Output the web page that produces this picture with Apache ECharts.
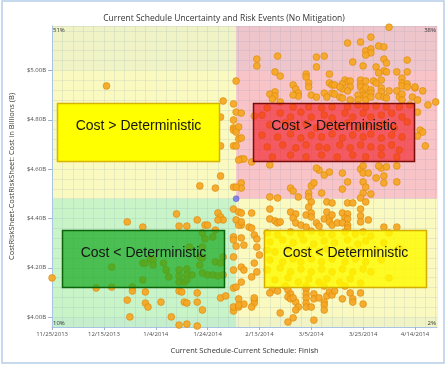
<!DOCTYPE html>
<html><head><meta charset="utf-8">
<script src="https://cdn.jsdelivr.net/npm/echarts@6/dist/echarts.min.js"></script>
<style>html,body{margin:0;padding:0;background:#fff}#c{width:448px;height:365px}</style>
</head><body><div id="c"></div><script>
const chartTitle = 'Current Schedule Uncertainty and Risk Events (No Mitigation)';
const xAxisTitle = 'Current Schedule-Current Schedule: Finish';
const yAxisTitle = 'CostRiskSheet-CostRiskSheet: Cost in Billions (B)';
const startDateUTC = Date.UTC(2013, 10, 25);           // day 0 = 11/25/2013
const xTickDays = [0, 20, 40, 60, 80, 100, 120, 140];
const yTickCosts = [4.0, 4.2, 4.4, 4.6, 4.8, 5.0];
const xRange = [0, 148.5];
const yRange = [3.96, 5.18];
const deterministicPoint = [71, 4.48];
const quadrantShares = ['51%', '38%', '10%', '2%'];     // TL, TR, BL, BR
const quadrantCaptions = ['Cost > Deterministic', 'Cost > Deterministic', 'Cost < Deterministic', 'Cost < Deterministic'];

// [finish day offset, cost in $B]
const upperLeftRuns = [[21,4.937],[66,4.876],[70,4.864],[65,4.811],[70,4.799],[70,4.767],[70,4.758],[65,4.694],[70,4.694],[65,4.572],[57,4.532],[63,4.523],[70,4.527]];
const upperRightRuns = [
[130,5.175],[123,5.135],[114,5.111],[119,5.115],[126,5.099],[121,5.079],[123,5.087],[123,5.071],[121,5.062],[87,5.058],[102,5.054],[105,5.058],[128,5.046],[129,5.030],[79,5.046],[79,5.018],[116,5.034],[137,5.042],[120,5.018],[102,5.014],[125,5.014],[128,4.998],[129,4.994],[133,4.994],[137,4.994],[126,4.990],[86,4.994],[88,4.977],[71,4.957],[98,4.985],[98,4.973],[107,4.985],[135,4.969],[135,4.949],[113,4.961],[114,4.953],[115,4.957],[119,4.961],[119,4.945],[121,4.957],[124,4.957],[127,4.961],[125,4.949],[107,4.949],[108,4.941],[109,4.941],[99,4.949],[99,4.933],[93,4.941],[94,4.925],[95,4.908],[112,4.945],[112,4.925],[111,4.933],[115,4.933],[114,4.917],[119,4.933],[120,4.917],[120,4.900],[121,4.929],[123,4.921],[123,4.908],[127,4.929],[127,4.913],[130,4.917],[133,4.917],[137,4.945],[140,4.929],[143,4.917],[86,4.913],[84,4.904],[86,4.896],[85,4.884],[95,4.896],[93,4.900],[100,4.900],[102,4.892],[105,4.908],[106,4.892],[108,4.908],[109,4.904],[111,4.892],[112,4.888],[115,4.880],[118,4.900],[118,4.880],[121,4.896],[121,4.880],[123,4.892],[126,4.896],[128,4.892],[129,4.888],[134,4.892],[135,4.904],[135,4.880],[139,4.892],[141,4.880],[145,4.860],[148,4.872],[88,4.872],[128,5.095],[135,4.937],[137,4.933],[140,4.933],
[71,4.831],[73,4.827],[71,4.763],[72,4.722],[71,4.694],[73,4.641],[74,4.641],[78,4.815],[77,4.629],[72,4.771],[73,4.726],[72,4.637],[71,4.750],
[142,4.758],[143,4.750],[141,4.734],[144,4.694],[141,4.831],
[83,4.848],[93,4.852],[99,4.852],[104,4.848],[108,4.852],[114,4.852],[118,4.860],[121,4.852],[125,4.856],[129,4.852],[134,4.852],[138,4.860],
[81,4.819],[88,4.827],[92,4.811],[96,4.831],[100,4.811],[105,4.819],[108,4.807],[113,4.827],[116,4.811],[120,4.827],[123,4.811],[127,4.819],[131,4.827],[135,4.811],
[84,4.779],[90,4.787],[94,4.771],[98,4.783],[102,4.767],[106,4.779],[110,4.771],[114,4.787],[118,4.767],[121,4.779],[125,4.771],[128,4.783],[132,4.767],[137,4.791],
[81,4.738],[87,4.730],[92,4.742],[96,4.726],[100,4.738],[104,4.730],[108,4.742],[112,4.726],[116,4.738],[120,4.730],[123,4.742],[127,4.726],[131,4.738],[135,4.730],
[83,4.690],[89,4.698],[94,4.686],[98,4.698],[103,4.690],[106,4.686],[111,4.698],[115,4.686],[119,4.698],[123,4.690],[127,4.686],[131,4.698],[134,4.677],
[85,4.649],[92,4.657],[98,4.649],[104,4.657],[110,4.649],[116,4.657],[121,4.649],[127,4.657],[133,4.649],
[84,4.617],[103,4.596],[105,4.576],[107,4.588],[112,4.584],[119,4.600],[120,4.584],[122,4.584],[127,4.604],[128,4.572],[129,4.609],[133,4.613],[125,4.564],[114,4.548],[120,4.548],[128,4.544],[133,4.548],[73,4.544],[73,4.523],[71,4.527],[92,4.523],[93,4.511],[100,4.532],[101,4.544],[99,4.503],[104,4.503],[112,4.519],[120,4.503],[123,4.499],[121,4.527],[102,4.604],[126,4.613],[120,4.613],[84,4.487],[87,4.483],[95,4.487],[99,4.487],[119,4.483]
];
const lowerRightRuns = [
[100,4.467],[99,4.446],[106,4.467],[108,4.463],[114,4.463],[116,4.463],[121,4.467],[72,4.426],[73,4.422],[77,4.422],[84,4.438],[92,4.426],[94,4.418],[93,4.402],[98,4.414],[100,4.422],[100,4.406],[106,4.426],[105,4.398],[107,4.402],[108,4.414],[112,4.422],[114,4.418],[113,4.402],[114,4.398],[119,4.438],[119,4.410],[119,4.386],[122,4.394],[71,4.394],[73,4.373],[76,4.365],[77,4.361],[84,4.398],[86,4.390],[87,4.382],[88,4.386],[94,4.382],[96,4.373],[98,4.365],[102,4.382],[103,4.369],[107,4.386],[108,4.373],[110,4.382],[112,4.382],[114,4.373],[114,4.361],[128,4.365],[133,4.365],[73,4.321],[74,4.292],[78,4.333],[79,4.317],[79,4.284],[80,4.252],[73,4.203],[74,4.191],[78,4.219],[77,4.163],[71,4.122],[79,4.183],[73,4.142],[71,4.288],[72,4.074],[74,4.053],[78,4.069],[78,4.057],[77,4.041],[72,4.041],[72,4.373],[73,4.386],[72,4.049],
[83,4.341],[87,4.333],[92,4.345],[96,4.337],[100,4.349],[104,4.341],[108,4.333],[113,4.345],[117,4.337],[120,4.345],[123,4.329],[130,4.341],
[84,4.305],[89,4.313],[93,4.301],[97,4.313],[101,4.296],[105,4.309],[109,4.301],[114,4.313],[118,4.296],[121,4.309],[128,4.301],
[83,4.272],[86,4.264],[91,4.276],[95,4.260],[99,4.272],[103,4.264],[106,4.276],[111,4.260],[115,4.272],[119,4.264],[125,4.272],[134,4.280],
[84,4.232],[89,4.224],[93,4.236],[96,4.224],[100,4.236],[104,4.224],[108,4.236],[113,4.224],[117,4.236],[121,4.224],[127,4.232],
[83,4.191],[88,4.199],[92,4.183],[96,4.195],[100,4.183],[104,4.195],[108,4.183],[112,4.195],[116,4.183],[120,4.195],[123,4.183],
[86,4.151],[91,4.159],[95,4.142],[99,4.155],[103,4.142],[106,4.155],[111,4.142],[115,4.155],[119,4.138],[130,4.159],
[90,4.126],[98,4.126],[105,4.126],[113,4.126],
[85,4.110],[87,4.106],[84,4.098],[91,4.110],[92,4.094],[91,4.082],[92,4.074],[98,4.114],[98,4.094],[98,4.078],[98,4.057],[98,4.041],[101,4.094],[101,4.074],[103,4.078],[106,4.086],[107,4.102],[108,4.090],[109,4.106],[105,4.061],[105,4.049],[94,4.061],[95,4.041],[93,4.078],[112,4.074],[115,4.098],[116,4.074],[116,4.061],[119,4.098],[120,4.053],[88,4.017],[93,3.997],[91,3.980],[101,3.988],[94,4.029],[105,4.029],[100,4.041],[78,4.078]
];
const lowerLeftRuns = [
[29,4.386],[35,4.365],[48,4.418],[49,4.369],[52,4.369],[56,4.394],[59,4.373],[64,4.422],[65,4.406],[66,4.394],[63,4.353],[58,4.341],[59,4.317],[62,4.325],[70,4.438],[70,4.325],[70,4.313],[70,4.244],[70,4.191],[0,4.159],[17,4.118],[23,4.203],[23,4.122],[31,4.122],[31,4.106],[35,4.219],[36,4.219],[38,4.236],[39,4.232],[39,4.211],[43,4.219],[44,4.191],[45,4.163],[35,4.151],[49,4.167],[49,4.191],[52,4.195],[52,4.171],[49,4.142],[51,4.142],[52,4.151],[54,4.171],[57,4.211],[58,4.179],[60,4.171],[62,4.171],[57,4.244],[58,4.240],[63,4.224],[65,4.219],[66,4.244],[64,4.167],[66,4.171],[53,4.284],[58,4.284],[36,4.102],[29,4.069],[30,4.001],[36,4.057],[37,4.041],[42,4.061],[46,4.001],[49,4.106],[50,4.102],[51,4.061],[52,4.057],[56,4.098],[58,4.029],[56,4.061],[65,4.078],[67,4.086],[70,4.118],[70,4.025],[49,3.968],[52,3.972],[56,3.964],[60,4.373],[64,4.394],[70,4.041]
];

const chart = echarts.init(document.getElementById('c'), null, {renderer: 'canvas'});
const FONT = 'Open Sans';
const fmtDate = v => { const d = new Date(startDateUTC + v * 86400000); return (d.getUTCMonth() + 1) + '/' + d.getUTCDate() + '/' + d.getUTCFullYear(); };
const dx = deterministicPoint[0], dy = deterministicPoint[1];
const x0 = xRange[0], x1 = xRange[1], y0 = yRange[0], y1 = yRange[1];
const band = 'rgba(180,210,230,0.13)';
const gridLine = {show: true, lineStyle: {color: 'rgba(120,150,180,0.14)', width: 1}};
const dotStyle = {color: '#f5a623', borderColor: '#dc8a0c', borderWidth: 0.7, opacity: 0.92};
const runSeries = (name, data) => ({name, type: 'scatter', data, symbolSize: 6.8, itemStyle: dotStyle, z: 5, silent: true, animation: false});

const gridPx = {left: 52, right: 11, top: 26, bottom: 38};
const plotW = 448 - gridPx.left - gridPx.right;

chart.setOption({
  animation: false,
  backgroundColor: '#fff',
  title: {text: chartTitle, left: 'center', top: 9, textStyle: {fontFamily: FONT, fontSize: 8.5, fontWeight: 'normal', color: '#333'}},
  grid: gridPx,
  xAxis: [
    {type: 'value', min: x0, max: x1, interval: 4, z: 3,
     axisLine: {show: true, onZero: false, lineStyle: {color: '#a9c3e4'}}, axisTick: {show: false}, axisLabel: {show: false},
     splitLine: gridLine},
    {type: 'value', min: x0, max: x1, position: 'bottom', z: 3,
     name: xAxisTitle, nameLocation: 'middle', nameGap: 20, nameTextStyle: {fontFamily: FONT, fontSize: 7.5, color: '#333'},
     axisLine: {show: false}, splitLine: {show: false},
     axisTick: {show: true, customValues: xTickDays, length: 3, lineStyle: {color: '#9fb3cc'}},
     axisLabel: {customValues: xTickDays, formatter: fmtDate, fontFamily: FONT, fontSize: 6, color: '#505050', margin: 4}}
  ],
  yAxis: [
    {type: 'value', min: y0, max: y1, interval: 0.04, z: 3,
     axisLine: {show: true, onZero: false, lineStyle: {color: '#a9c3e4'}}, axisTick: {show: false}, axisLabel: {show: false},
     splitLine: gridLine},
    {type: 'value', min: y0, max: y1, position: 'left', z: 3,
     name: yAxisTitle, nameLocation: 'middle', nameGap: 23, nameTextStyle: {fontFamily: FONT, fontSize: 7.5, color: '#333'},
     axisLine: {show: false}, splitLine: {show: false},
     axisTick: {show: true, customValues: yTickCosts, length: 4, lineStyle: {color: '#9fb3cc'}},
     axisLabel: {customValues: yTickCosts, formatter: v => '$' + v.toFixed(2) + 'B', fontFamily: FONT, fontSize: 6, color: '#505050', margin: 6}}
  ],
  series: [
    {type: 'scatter', name: 'quadrants', data: [deterministicPoint], symbolSize: 0, z: 1, silent: true,
     markArea: {silent: true, z: 1, data: [
       [{coord: [x0, dy], itemStyle: {color: '#f9f9c0'}}, {coord: [dx, y1]}],
       [{coord: [dx, dy], itemStyle: {color: '#f8c4c8'}}, {coord: [x1, y1]}],
       [{coord: [x0, y0], itemStyle: {color: '#c8f4c8'}}, {coord: [dx, dy]}],
       [{coord: [dx, y0], itemStyle: {color: '#f9f9c0'}}, {coord: [x1, dy]}],
       [{coord: [x0, yTickCosts[yTickCosts.length - 1]], itemStyle: {color: band}}, {coord: [x1, y1]}],
       [{coord: [x0, y0], itemStyle: {color: band}}, {coord: [x1, yTickCosts[0]]}]
     ]}},
    runSeries('upperLeft', upperLeftRuns),
    runSeries('upperRight', upperRightRuns),
    runSeries('lowerLeft', lowerLeftRuns),
    runSeries('lowerRight', lowerRightRuns),
    {type: 'scatter', name: 'deterministic', data: [deterministicPoint], symbolSize: 6, z: 6, silent: true,
     itemStyle: {color: '#6b6be8', borderColor: '#5050c0', borderWidth: 0.5}}
  ]
});

// annotation overlays (pixel layout)
const boxes = [
  {x: 57.5, y: 103.5, w: 162, h: 58, fill: '#ffff00', stroke: '#d6b400'},
  {x: 253.5, y: 103.5, w: 161, h: 58, fill: 'rgba(242,24,34,0.62)', stroke: '#7a0c0c'},
  {x: 62.5, y: 230.5, w: 162, h: 57, fill: 'rgba(22,168,32,0.7)', stroke: '#0b640b'},
  {x: 264.5, y: 230.5, w: 162, h: 57, fill: 'rgba(255,250,0,0.82)', stroke: '#d4ae00'}
];
const g = [{type: 'rect', silent: true, z: 100, shape: {x: 2, y: 1, width: 442, height: 362}, style: {fill: 'none', stroke: '#b5cde8', lineWidth: 1.5}}];
boxes.forEach((b, i) => {
  g.push({type: 'rect', silent: true, z: 100, shape: {x: b.x, y: b.y, width: b.w, height: b.h}, style: {fill: b.fill, stroke: b.stroke, lineWidth: 1.5}});
  g.push({type: 'text', silent: true, z: 101, x: b.x + b.w / 2, y: b.y + 23,
          style: {text: quadrantCaptions[i], font: '14px "Liberation Sans", Arial, sans-serif', fill: '#151515',
                  align: 'center', verticalAlign: 'middle', textAlign: 'center', textVerticalAlign: 'middle'}});
});
const pctPos = [
  {x: gridPx.left + 1, y: 30, a: 'left'}, {x: gridPx.left + plotW - 1, y: 30, a: 'right'},
  {x: gridPx.left + 1, y: 323.5, a: 'left'}, {x: gridPx.left + plotW - 1, y: 323.5, a: 'right'}
];
pctPos.forEach((p, i) => g.push({type: 'text', silent: true, z: 101, x: p.x, y: p.y,
  style: {text: quadrantShares[i], font: '6px "Open Sans"', fill: '#333', align: p.a, verticalAlign: 'middle', textAlign: p.a, textVerticalAlign: 'middle'}}));
chart.setOption({graphic: g});
</script></body></html>
